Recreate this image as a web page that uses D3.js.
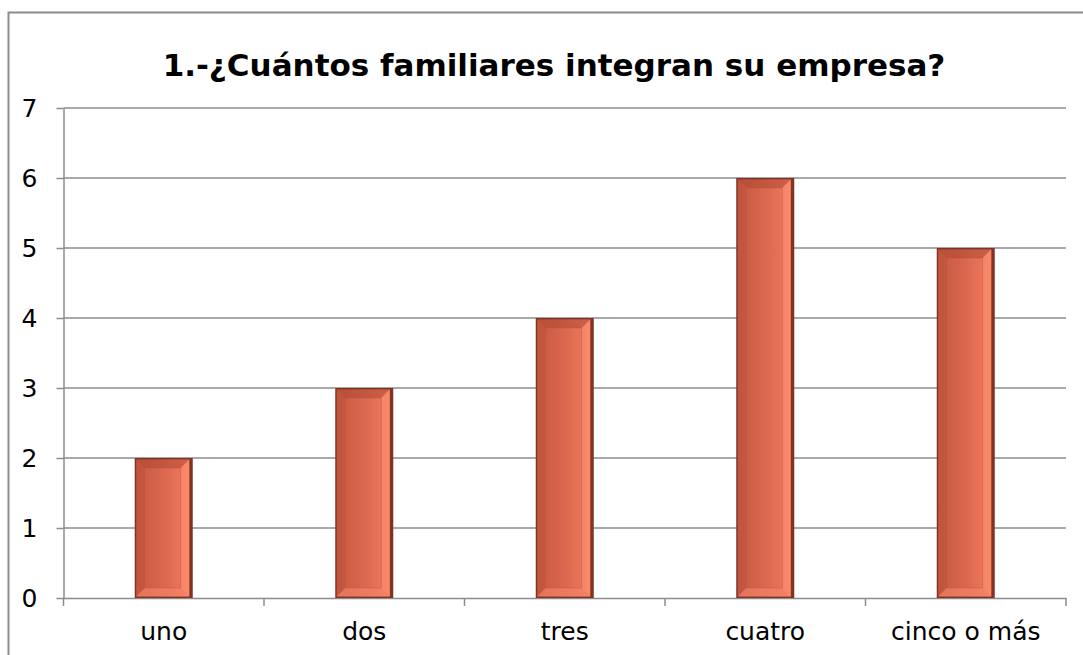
<!DOCTYPE html>
<html>
<head>
<meta charset="utf-8">
<script src="https://cdn.jsdelivr.net/npm/d3@7"></script>
<style>
  html, body { margin: 0; padding: 0; background: #fff; }
  svg { display: block; }
  text { font-family: "DejaVu Sans", sans-serif; fill: #000; }
</style>
</head>
<body>
<svg id="chart" width="1083" height="655"></svg>
<script>
const title = "1.-¿Cuántos familiares integran su empresa?";
const categories = ["uno", "dos", "tres", "cuatro", "cinco o más"];
const values = [2, 3, 4, 6, 5];
const yTicks = [0, 1, 2, 3, 4, 5, 6, 7];

const svg = d3.select("#chart");
const W = 1083, H = 655;
const plot = { left: 63.5, right: 1066, top: 108, bottom: 598 };

// outer chart frame
svg.append("rect")
  .attr("x", 8.5).attr("y", 12.5)
  .attr("width", W + 20).attr("height", H + 20)
  .attr("fill", "#fff").attr("stroke", "#8c8c8c").attr("stroke-width", 2);

svg.append("text")
  .attr("x", 554).attr("y", 76)
  .attr("text-anchor", "middle")
  .attr("font-size", 31).attr("font-weight", "bold")
  .text(title);

const x = d3.scaleBand().domain(categories).range([plot.left, plot.right]).paddingInner(0).paddingOuter(0);
const y = d3.scaleLinear().domain([0, 7]).range([plot.bottom, plot.top]);

// horizontal gridlines
svg.append("g").selectAll("line").data(yTicks.slice(1)).join("line")
  .attr("x1", plot.left).attr("x2", plot.right)
  .attr("y1", d => y(d)).attr("y2", d => y(d))
  .attr("stroke", "#8c8c8c").attr("stroke-width", 1.5);

// value axis
const yAxis = svg.append("g").attr("transform", `translate(${plot.left},0)`)
  .call(d3.axisLeft(y).tickValues(yTicks).tickFormat(d3.format("d")).tickSize(7).tickPadding(19).tickSizeOuter(0));
yAxis.select(".domain").attr("stroke", "#8c8c8c").attr("stroke-width", 1.5);
yAxis.selectAll(".tick line").attr("stroke", "#8c8c8c").attr("stroke-width", 1.5);
yAxis.selectAll(".tick text").attr("font-size", 25).attr("font-family", "DejaVu Sans").attr("fill", "#000");

// category axis
const xAxis = svg.append("g").attr("transform", `translate(0,${plot.bottom})`)
  .call(d3.axisBottom(x).tickSize(0).tickPadding(24));
xAxis.select(".domain").attr("stroke", "#8c8c8c").attr("stroke-width", 1.5);
xAxis.selectAll(".tick text").attr("font-size", 25).attr("font-family", "DejaVu Sans").attr("fill", "#000");
// tick marks at category boundaries
const bounds = categories.map(c => x(c)).concat([x(categories[categories.length - 1]) + x.bandwidth()]);
svg.append("g").selectAll("line").data(bounds).join("line")
  .attr("x1", d => d).attr("x2", d => d)
  .attr("y1", plot.bottom).attr("y2", plot.bottom + 8)
  .attr("stroke", "#8c8c8c").attr("stroke-width", 1.5);

// bevelled bar gradients
const defs = svg.append("defs");
const g1 = defs.append("linearGradient").attr("id", "barFace").attr("x1", 0).attr("x2", 1).attr("y1", 0).attr("y2", 0);
g1.append("stop").attr("offset", 0).attr("stop-color", "#c65841");
g1.append("stop").attr("offset", 0.55).attr("stop-color", "#dc6850");
g1.append("stop").attr("offset", 1).attr("stop-color", "#f27c5e");

const barW = 58;
const bev = 10;
const bars = svg.append("g").selectAll("g").data(categories.map((c, i) => ({ c, v: values[i] }))).join("g");

bars.each(function(d) {
  const g = d3.select(this);
  const cx = x(d.c) + x.bandwidth() / 2;
  const x0 = cx - barW / 2, x1 = cx + barW / 2;
  const y0 = y(d.v), y1 = y(0);
  const ix0 = x0 + bev, ix1 = x1 - bev - 2, iy0 = y0 + bev, iy1 = y1 - bev;
  // dark shadow edge
  g.append("rect").attr("x", x0).attr("y", y0).attr("width", barW).attr("height", y1 - y0)
    .attr("fill", "#7e3323");
  // face
  g.append("rect").attr("x", x0 + 1.5).attr("y", y0 + 1.5).attr("width", barW - 5).attr("height", y1 - y0 - 3)
    .attr("fill", "url(#barFace)");
  const poly = (pts, fill, op) => g.append("polygon")
    .attr("points", pts.map(p => p.join(",")).join(" "))
    .attr("fill", fill).attr("opacity", op);
  const ox0 = x0 + 1.5, ox1 = x1 - 3.5, oy0 = y0 + 1.5, oy1 = y1 - 1.5;
  // top bevel
  poly([[ox0, oy0], [ox1, oy0], [ix1, iy0], [ix0, iy0]], "#a9452f", 0.5);
  // left bevel
  poly([[ox0, oy0], [ix0, iy0], [ix0, iy1], [ox0, oy1]], "#b24c36", 0.3);
  // bottom bevel
  poly([[ox0, oy1], [ix0, iy1], [ix1, iy1], [ox1, oy1]], "#f7876a", 0.6);
  // right bevel
  poly([[ox1, oy0], [ox1, oy1], [ix1, iy1], [ix1, iy0]], "#ff9473", 0.55);
  // inner edge line
  g.append("rect").attr("x", ix0).attr("y", iy0).attr("width", ix1 - ix0).attr("height", iy1 - iy0)
    .attr("fill", "none").attr("stroke", "#b65039").attr("stroke-width", 0.6).attr("opacity", 0.6);
});
</script>
</body>
</html>
